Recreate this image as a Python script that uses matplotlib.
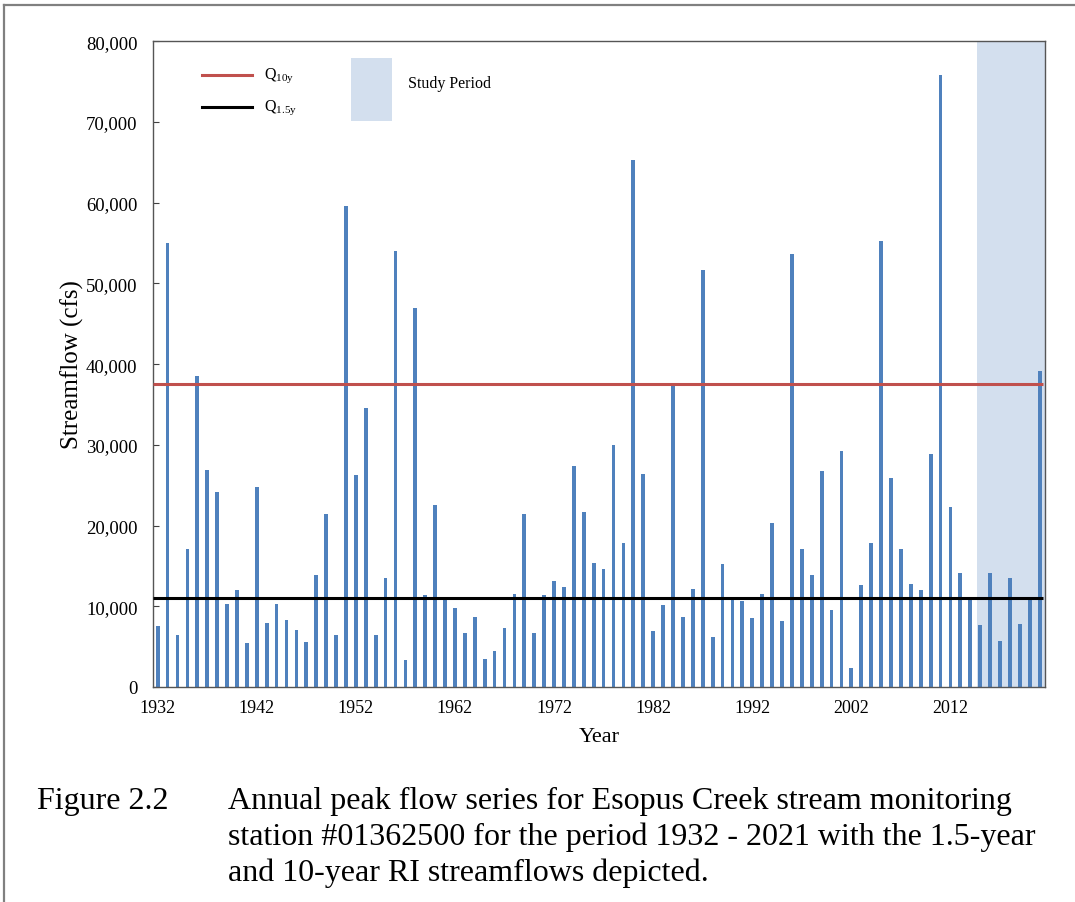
import matplotlib
matplotlib.use("Agg")
import matplotlib.pyplot as plt
from matplotlib.lines import Line2D
from matplotlib.patches import Rectangle

plt.rcParams['font.family'] = ['Liberation Serif', 'DejaVu Serif']
plt.rcParams['mathtext.fontset'] = 'custom'
plt.rcParams['mathtext.rm'] = 'Liberation Serif'
plt.rcParams['mathtext.it'] = 'Liberation Serif:italic'

# ---- data ----
years = list(range(1932, 2022))
peak_flow = [
    7600, 55000, 6450, 17100, 38500, 26900, 24100, 10300, 12000, 5500,   # 1932-1941
    24800, 7950, 10300, 8250, 7100, 5600, 13900, 21400, 6500, 59600,     # 1942-1951
    26300, 34600, 6400, 13500, 54000, 3350, 46900, 11450, 22500, 10800,  # 1952-1961
    9800, 6750, 8650, 3450, 4500, 7300, 11550, 21400, 6750, 11400,       # 1962-1971
    13100, 12350, 27400, 21650, 15350, 14650, 30000, 17850, 65300, 26400,  # 1972-1981
    6900, 10150, 37350, 8650, 12200, 51650, 6200, 15250, 10900, 10600,   # 1982-1991
    8500, 11550, 20300, 8150, 53600, 17100, 13850, 26750, 9500, 29200,   # 1992-2001
    2400, 12650, 17850, 55200, 25900, 17050, 12750, 12000, 28850, 75800,  # 2002-2011
    22300, 14100, 10900, 7700, 14100, 5750, 13550, 7800, 10900, 39100,   # 2012-2021
]
q10y = 37500
q15y = 11000
study_start = 2014.64
tick_years = [1932, 1942, 1952, 1962, 1972, 1982, 1992, 2002, 2012]
y_ticks = [0, 10000, 20000, 30000, 40000, 50000, 60000, 70000, 80000]

caption_label = "Figure 2.2"
caption_lines = [
    "Annual peak flow series for Esopus Creek stream monitoring",
    "station #01362500 for the period 1932 - 2021 with the 1.5-year",
    "and 10-year RI streamflows depicted.",
]

W, H = 1075, 903
fig = plt.figure(figsize=(W / 100, H / 100), dpi=100)

ax_l, ax_r, ax_t, ax_b = 152.7, 1045.0, 42.3, 688.0
ax = fig.add_axes([ax_l / W, 1 - ax_b / H, (ax_r - ax_l) / W, (ax_b - ax_t) / H])

xmin, xmax = 1931.5, 2021.54
ax.set_xlim(xmin, xmax)
ax.set_ylim(0, 80000)

ax.axvspan(study_start, xmax, color='#d3dfee', zorder=0, lw=0)
ax.bar(years, peak_flow, width=0.38, color='#4f81bd', zorder=2)
ax.plot([xmin, 2021.35], [q10y, q10y], color='#c0504d', lw=2.2, zorder=3, solid_capstyle='butt')
ax.plot([xmin, 2021.35], [q15y, q15y], color='black', lw=2.2, zorder=3, solid_capstyle='butt')

ax.set_xticks(tick_years)
ax.set_xticklabels([str(y) for y in tick_years])
ax.set_yticks(y_ticks)
ax.set_yticklabels([f"{v:,}" for v in y_ticks])
ax.tick_params(axis='y', direction='in', length=4, width=0.8, pad=11, labelsize=13.5, color='#404040')
ax.tick_params(axis='x', length=0, pad=9, labelsize=13)
for s in ax.spines.values():
    s.set_color('#555555')
    s.set_linewidth(1.0)

# legend (manual)
def axfx(px):
    return (px - ax_l) / (ax_r - ax_l)

def axfy(py):
    return (ax_b - py) / (ax_b - ax_t)

ax.add_line(Line2D([axfx(202), axfx(252)], [axfy(76), axfy(76)], transform=ax.transAxes,
                   color='#c0504d', lw=2.2, zorder=5))
ax.add_line(Line2D([axfx(202), axfx(252)], [axfy(108), axfy(108)], transform=ax.transAxes,
                   color='black', lw=2.2, zorder=5))
ax.text(axfx(264), axfy(76), r"Q$_{\mathrm{10y}}$", transform=ax.transAxes, ha='left', va='center', fontsize=11.5)
ax.text(axfx(264), axfy(108), r"Q$_{\mathrm{1.5y}}$", transform=ax.transAxes, ha='left', va='center', fontsize=11.5)
ax.add_patch(Rectangle((axfx(351), axfy(122)), axfx(392) - axfx(351), axfy(59) - axfy(122),
                       transform=ax.transAxes, facecolor='#d3dfee', edgecolor='none', zorder=5))
ax.text(axfx(408), axfy(84), "Study Period", transform=ax.transAxes, ha='left', va='center', fontsize=11.5)

# axis titles
fig.text(72 / W, 1 - 365 / H, "Streamflow (cfs)", rotation=90, ha='center', va='center', fontsize=18)
fig.text(599 / W, 1 - 738 / H, "Year", ha='center', va='center', fontsize=16)

# caption
fig.text(37 / W, 1 - 809 / H, caption_label, ha='left', va='baseline', fontsize=23)
for i, line in enumerate(caption_lines):
    fig.text(228 / W, 1 - (809 + 36 * i) / H, line, ha='left', va='baseline', fontsize=23)

# outer frame
fig.add_artist(Line2D([4 / W, 1], [1 - 6 / H, 1 - 6 / H], transform=fig.transFigure, color='#808080', lw=1.6))
fig.add_artist(Line2D([4 / W, 4 / W], [0, 1 - 6 / H], transform=fig.transFigure, color='#808080', lw=1.6))

fig.savefig("out.png", dpi=100)
